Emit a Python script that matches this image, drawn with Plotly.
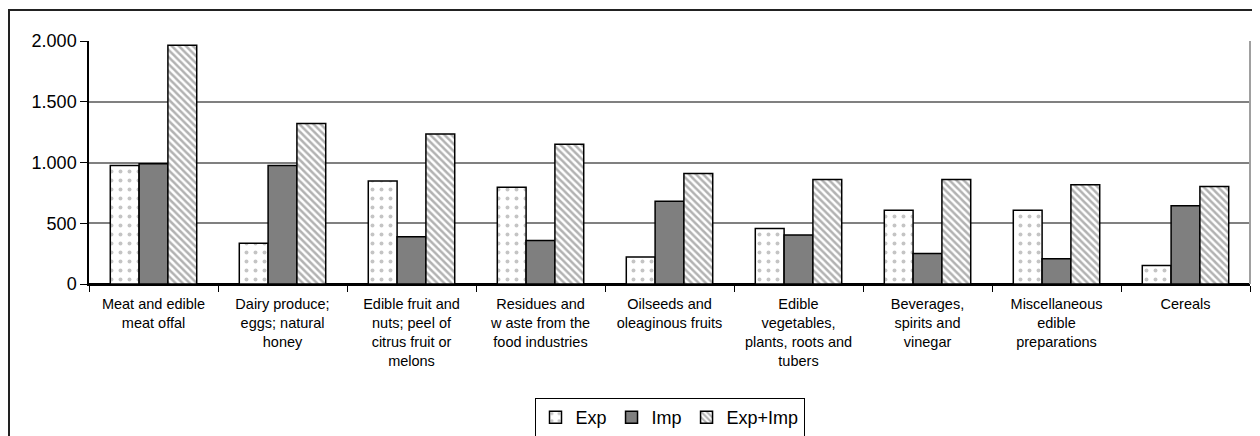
import plotly.graph_objects as go

categories = [
    "Meat and edible<br>meat offal",
    "Dairy produce;<br>eggs; natural<br>honey",
    "Edible fruit and<br>nuts; peel of<br>citrus fruit or<br>melons",
    "Residues and<br>w aste from the<br>food industries",
    "Oilseeds and<br>oleaginous fruits",
    "Edible<br>vegetables,<br>plants, roots and<br>tubers",
    "Beverages,<br>spirits and<br>vinegar",
    "Miscellaneous<br>edible<br>preparations",
    "Cereals",
]
exp_vals = [975, 335, 848, 797, 222, 457, 608, 608, 153]
imp_vals = [990, 975, 389, 358, 682, 403, 252, 208, 644]
tot_vals = [1965, 1320, 1235, 1151, 909, 860, 860, 816, 802]
y_ticks = [0, 500, 1000, 1500, 2000]

# page body has an 8px offset
W, H = 1252, 428
L, R, T, B = 81, 10, 33, 152
pw, ph = W - L - R, H - T - B

fig = go.Figure()
fig.add_trace(go.Bar(
    name="Exp", x=categories, y=exp_vals,
    marker=dict(color="white", line=dict(color="black", width=1.5),
                pattern=dict(shape=".", fgcolor="#8a8a8a", size=9, solidity=0.15, fillmode="overlay")),
))
fig.add_trace(go.Bar(
    name="Imp", x=categories, y=imp_vals,
    marker=dict(color="#7f7f7f", line=dict(color="black", width=1.5)),
))
fig.add_trace(go.Bar(
    name="Exp+Imp", x=categories, y=tot_vals,
    marker=dict(color="white", line=dict(color="black", width=1.5),
                pattern=dict(shape="\\", fgcolor="#666666", size=5, solidity=0.5, fillmode="overlay")),
))

font = "Liberation Sans, Arial, sans-serif"

# outer frame (extends beyond visible window)
fx0 = (1 - L) / pw
fy1 = 1 + (T - 2) / ph
fig.add_shape(type="rect", xref="paper", yref="paper",
              x0=fx0, x1=1.05, y0=-1.2, y1=fy1,
              line=dict(color="#222222", width=2), layer="below")
# plot area right border
fig.add_shape(type="line", xref="paper", yref="paper",
              x0=1, x1=1, y0=0, y1=1,
              line=dict(color="#a0a0a0", width=2))

fig.update_layout(
    width=W, height=H,
    margin=dict(l=L, r=R, t=T, b=B, autoexpand=False),
    paper_bgcolor="white", plot_bgcolor="white",
    separators=",.",
    barmode="group", bargap=0.33, bargroupgap=0,
    font=dict(family=font, color="black"),
    showlegend=True,
    legend=dict(orientation="h", x=0.5, xanchor="center", y=-(390 - (T + ph)) / ph, yanchor="top",
                bordercolor="black", borderwidth=1, font=dict(size=18, family=font),
                bgcolor="white", itemwidth=30, traceorder="normal"),
)
fig.update_xaxes(
    type="category", tickson="boundaries", ticks="outside", ticklen=6, tickcolor="black",
    showline=True, linecolor="black", linewidth=1.5, showgrid=False,
    tickfont=dict(size=14.5, family=font), tickangle=0, ticklabelstandoff=6,
)
fig.update_yaxes(
    range=[0, 2000], tickvals=y_ticks, tickformat=",d", ticks="outside", ticklen=7, tickcolor="black",
    showline=True, linecolor="black", linewidth=1.5,
    showgrid=True, gridcolor="#808080", gridwidth=1.5,
    zeroline=True, zerolinecolor="black", zerolinewidth=1.5,
    tickfont=dict(size=18, family=font),
)

fig.write_html("out.html")
